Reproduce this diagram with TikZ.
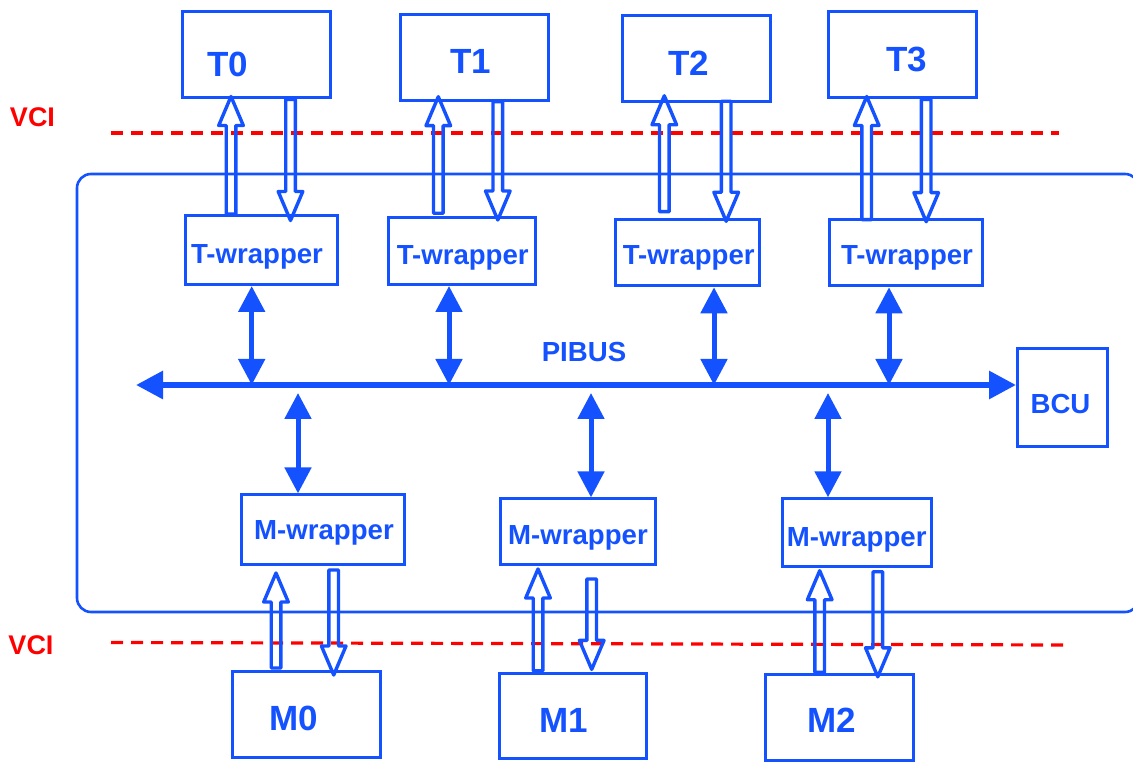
\documentclass[tikz,border=0pt]{standalone}
\usepackage{fontspec}
\setmainfont{Liberation Sans}
\usetikzlibrary{arrows.meta,calc}
\definecolor{bl}{RGB}{20,82,255}
\definecolor{rd}{RGB}{255,0,0}
\tikzset{
 box/.style={draw=bl, line width=1.5pt, inner sep=0pt},
 tbox/.style={box, minimum width=74pt, minimum height=43pt},
 lbl/.style={text=bl, font=\bfseries\fontsize{13.8}{14}\selectfont, inner sep=0pt, text depth=0pt},
 big/.style={text=bl, font=\bfseries\fontsize{17.5}{18}\selectfont, inner sep=0pt, text depth=0pt},
 vci/.style={text=rd, font=\bfseries\fontsize{13.5}{14}\selectfont, inner sep=0pt, text depth=0pt},
 hol/.style={draw=bl, line width=1.7pt, line join=round},
 bus/.style={draw=bl, line width=3pt, {Triangle[length=13.5pt,width=13.5pt]}-{Triangle[length=13.5pt,width=13.5pt]}},
 link/.style={draw=bl, line width=2.5pt, {Triangle[length=13pt,width=13pt]}-{Triangle[length=13pt,width=13pt]}},
 vline/.style={draw=rd, line width=1.6pt, dash pattern=on 6pt off 4pt},
 outerbox/.style={draw=bl, line width=1.3pt, rounded corners=7pt},
}
% hollow arrows: #1 start, #2 end (tip), #3 start shift, #4 tip overshoot (px, along direction)
\newcommand\hup[4]{\draw[hol] ($#1+(-4.8,{-#3})$) -- ($#2+(-4.8,{29-#4})$) -- ($#2+(-12.3,{29-#4})$) -- ($#2+(0,{-#4})$) -- ($#2+(12.3,{29-#4})$) -- ($#2+(4.8,{29-#4})$) -- ($#1+(4.8,{-#3})$) -- cycle;}
\newcommand\hdown[4]{\draw[hol] ($#1+(-4.8,{#3})$) -- ($#2+(-4.8,{#4-29})$) -- ($#2+(-12.3,{#4-29})$) -- ($#2+(0,{#4})$) -- ($#2+(12.3,{#4-29})$) -- ($#2+(4.8,{#4-29})$) -- ($#1+(4.8,{#3})$) -- cycle;}
\begin{document}
\begin{tikzpicture}[x=0.5pt,y=-0.5pt]
\useasboundingbox (0,0) rectangle (1133,763);
% outer NoC frame
\draw[outerbox] (77,174) rectangle (1139,612);
% VCI lines
\coordinate (v1a) at (111,133);
\coordinate (v1b) at (1059,133);
\coordinate (v2a) at (111,642.5);
\coordinate (v2b) at (1065,645);
\draw[vline] (v1a) -- (v1b);
\draw[vline] (v2a) -- (v2b);
\node[vci] (vci1) at (32.5,117) {VCI};
\node[vci] (vci2) at (31,645) {VCI};
% targets
\node[tbox] (t0) at (256.3,55) {};
\node[tbox] (t1) at (474.8,57.2) {};
\node[tbox] (t2) at (696.5,58.8) {};
\node[tbox] (t3) at (902.5,55) {};
\node[big] (t0l) at (228,64) {T0};
\node[big] (t1l) at (471,61) {T1};
\node[big] (t2l) at (689,63) {T2};
\node[big] (t3l) at (907,59) {T3};
% T-wrappers
\node[box, minimum width=76pt, minimum height=34.5pt] (tw0) at (261.5,250) {};
\node[box, minimum width=73.5pt, minimum height=33.5pt] (tw1) at (461.7,251) {};
\node[box, minimum width=72pt, minimum height=33pt] (tw2) at (687.5,252.8) {};
\node[box, minimum width=76.5pt, minimum height=33.3pt] (tw3) at (906,252.5) {};
\node[lbl] (tw0l) at (257,254) {T-wrapper};
\node[lbl] (tw1l) at (462.7,255) {T-wrapper};
\node[lbl] (tw2l) at (688.7,255) {T-wrapper};
\node[lbl] (tw3l) at (907,255) {T-wrapper};
% M-wrappers
\node[box, minimum width=81.3pt, minimum height=34.8pt] (mw0) at (322.8,529.7) {};
\node[box, minimum width=77.7pt, minimum height=32.8pt] (mw1) at (578.2,531.7) {};
\node[box, minimum width=74.8pt, minimum height=33.7pt] (mw2) at (857,532.5) {};
\node[lbl] (mw0l) at (324,530) {M-wrapper};
\node[lbl] (mw1l) at (578,535) {M-wrapper};
\node[lbl] (mw2l) at (856.7,536.7) {M-wrapper};
% memories
\node[box, minimum width=74pt, minimum height=43.2pt] (m0) at (306.5,714.7) {};
\node[box, minimum width=73.5pt, minimum height=42.3pt] (m1) at (573,716.2) {};
\node[box, minimum width=74pt, minimum height=42.7pt] (m2) at (839.5,717.5) {};
\node[big] (m0l) at (294,718) {M0};
\node[big] (m1l) at (564,720.8) {M1};
\node[big] (m2l) at (832,720) {M2};
% BCU
\node[box, minimum width=45.2pt, minimum height=48.7pt] (bcu) at (1062.7,397.5) {};
\node[lbl] (bcul) at (1060.5,404) {BCU};
% PIBUS
\node[lbl] (pib) at (584,352) {PIBUS};
\coordinate (busL) at (136,385);
\draw[bus] (busL) -- (bcu.west |- busL);
% links wrapper <-> bus
\coordinate (b0) at (251.7,385);
\coordinate (b1) at (449,385);
\coordinate (b2) at (714,385);
\coordinate (b3) at (889,385);
\coordinate (c0) at (298,393);
\coordinate (c1) at (591,393);
\coordinate (c2) at (828,393);
\draw[link] (tw0.south -| b0) -- (b0);
\draw[link] (tw1.south -| b1) -- (b1);
\draw[link] (tw2.south -| b2) -- (b2);
\draw[link] (tw3.south -| b3) -- (b3);
\draw[link] (c0) -- (mw0.north -| c0);
\draw[link] (c1) -- (mw1.north -| c1);
\draw[link] (c2) -- (mw2.north -| c2);
% hollow VCI arrows
\coordinate (u0) at (231,0);   \coordinate (d0) at (290.5,0);
\coordinate (u1) at (438.3,0); \coordinate (d1) at (497.8,0);
\coordinate (u2) at (664.3,0); \coordinate (d2) at (726.2,0);
\coordinate (u3) at (866.7,0); \coordinate (d3) at (926.2,0);
\coordinate (mu0) at (276,0);   \coordinate (md0) at (333.7,0);
\coordinate (mu1) at (538,0);   \coordinate (md1) at (591.7,0);
\coordinate (mu2) at (819.7,0); \coordinate (md2) at (877.8,0);
\hup{(tw0.north -| u0)}{(t0.south -| u0)}{0}{3}
\hdown{(t0.south -| d0)}{(tw0.north -| d0)}{0}{6.5}
\hup{(tw1.north -| u1)}{(t1.south -| u1)}{2.7}{5}
\hdown{(t1.south -| d1)}{(tw1.north -| d1)}{0}{4}
\hup{(tw2.north -| u2)}{(t2.south -| u2)}{6.6}{7.5}
\hdown{(t2.south -| d2)}{(tw2.north -| d2)}{-2}{3}
\hup{(tw3.north -| u3)}{(t3.south -| u3)}{-2}{3}
\hdown{(t3.south -| d3)}{(tw3.north -| d3)}{0}{4}
\hup{(m0.north -| mu0)}{(mw0.south -| mu0)}{2}{-7}
\hdown{(mw0.south -| md0)}{(m0.north -| md0)}{4}{5}
\hup{(m1.north -| mu1)}{(mw1.south -| mu1)}{1.6}{-3}
\hdown{(mw1.south -| md1)}{(m1.north -| md1)}{13}{-3}
\hup{(m2.north -| mu2)}{(mw2.south -| mu2)}{1}{-3}
\hdown{(mw2.south -| md2)}{(m2.north -| md2)}{4}{3.5}
\end{tikzpicture}
\end{document}
